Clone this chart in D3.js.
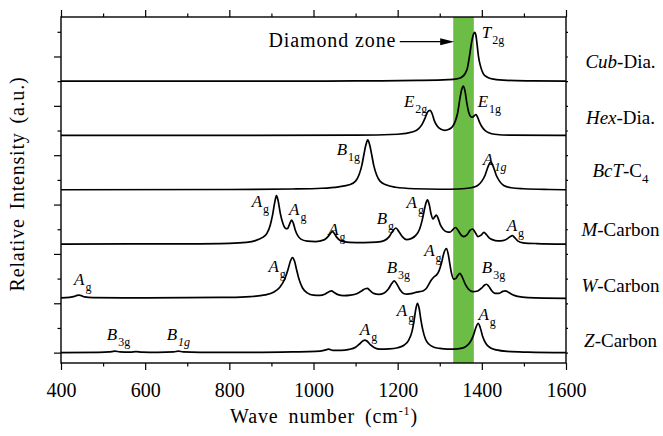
<!DOCTYPE html>
<html>
<head>
<meta charset="utf-8">
<script src="https://cdn.jsdelivr.net/npm/d3@7"></script>
<style>
    body { margin: 0; background: #fff; }
    svg { display: block; }
    text { font-family: "Liberation Serif", "Times New Roman", serif; fill: #000; }
</style>
</head>
<body>
<div id="chart"></div>
<script>
// spectra: [wave number (cm-1), intensity above the trace's own baseline]
let cubDia = [[400,0],[900,0],[1100,0.01],[1250,0.03],[1320,0.06],[1340,0.09],[1352,0.16],[1360,0.3],[1366,0.55],[1371,1.05],[1376,1.6],[1380,1.9],[1383,1.98],[1386,1.85],[1389,1.45],[1392,1.0],[1397,0.6],[1403,0.32],[1412,0.17],[1428,0.08],[1460,0.03],[1520,0.01],[1600,0]];

let hexDia = [[400,0],[1100,0.01],[1200,0.05],[1237,0.15],[1250,0.28],[1258,0.45],[1265,0.7],[1271,0.95],[1277,1.02],[1282,0.88],[1287,0.6],[1294,0.38],[1303,0.25],[1312,0.21],[1322,0.25],[1330,0.35],[1337,0.58],[1343,0.95],[1348,1.5],[1352,1.85],[1356,2.0],[1360,1.8],[1364,1.35],[1369,0.93],[1374,0.76],[1378,0.74],[1382,0.8],[1386,0.85],[1390,0.73],[1395,0.52],[1401,0.33],[1408,0.2],[1418,0.1],[1430,0.05],[1470,0.01],[1600,0]];

let bctC4 = [[400,0],[800,0.01],[950,0.03],[1020,0.06],[1060,0.12],[1085,0.2],[1100,0.35],[1108,0.6],[1115,1.0],[1120,1.45],[1125,1.85],[1129,2.02],[1133,1.85],[1138,1.45],[1143,1.0],[1150,0.6],[1158,0.35],[1172,0.2],[1195,0.1],[1240,0.04],[1300,0.02],[1345,0.03],[1375,0.08],[1390,0.17],[1400,0.35],[1408,0.6],[1414,0.9],[1418,1.06],[1421,1.12],[1424,1.06],[1428,0.9],[1434,0.6],[1442,0.35],[1452,0.17],[1470,0.08],[1500,0.04],[1560,0.01],[1600,0]];

let mCarbon = [[400,0],[700,0.01],[800,0.03],[840,0.07],[862,0.14],[878,0.26],[889,0.42],[897,0.75],[903,1.2],[908,1.7],[912,1.96],[916,1.75],[921,1.25],[927,0.85],[933,0.64],[938,0.62],[943,0.8],[948,0.97],[952,0.85],[957,0.55],[963,0.33],[970,0.2],[985,0.12],[1005,0.1],[1025,0.17],[1036,0.33],[1041,0.45],[1045,0.5],[1049,0.44],[1055,0.28],[1065,0.13],[1085,0.07],[1120,0.06],[1150,0.08],[1168,0.14],[1180,0.3],[1188,0.52],[1196,0.65],[1203,0.5],[1211,0.3],[1221,0.18],[1232,0.22],[1243,0.35],[1252,0.6],[1258,0.95],[1263,1.35],[1267,1.65],[1271,1.79],[1275,1.6],[1279,1.25],[1284,1.02],[1288,1.1],[1292,1.17],[1296,1.05],[1301,0.8],[1308,0.6],[1316,0.5],[1324,0.48],[1331,0.58],[1337,0.67],[1343,0.57],[1350,0.38],[1357,0.3],[1365,0.38],[1372,0.55],[1378,0.61],[1384,0.48],[1391,0.3],[1398,0.36],[1405,0.47],[1411,0.38],[1418,0.24],[1425,0.18],[1438,0.13],[1450,0.14],[1462,0.23],[1468,0.31],[1473,0.34],[1478,0.26],[1486,0.12],[1498,0.05],[1530,0.02],[1600,0]];

let wCarbon = [[400,0.02],[420,0.04],[432,0.08],[438,0.12],[443,0.13],[448,0.11],[456,0.06],[475,0.03],[550,0.02],[700,0.03],[800,0.04],[850,0.07],[885,0.14],[905,0.25],[920,0.45],[932,0.8],[940,1.2],[945,1.5],[950,1.65],[955,1.5],[960,1.15],[966,0.75],[974,0.42],[985,0.22],[1000,0.13],[1015,0.12],[1028,0.18],[1037,0.27],[1043,0.3],[1049,0.24],[1058,0.15],[1072,0.11],[1088,0.13],[1104,0.2],[1116,0.32],[1123,0.39],[1128,0.4],[1134,0.32],[1143,0.2],[1155,0.16],[1168,0.22],[1178,0.38],[1186,0.6],[1192,0.71],[1198,0.58],[1206,0.34],[1214,0.2],[1222,0.17],[1235,0.2],[1245,0.25],[1252,0.27],[1260,0.3],[1268,0.4],[1280,0.74],[1287,0.88],[1292,0.94],[1298,1.1],[1304,1.42],[1310,1.85],[1316,2.02],[1320,1.8],[1323,1.5],[1328,1.01],[1333,0.78],[1338,0.8],[1343,0.93],[1348,1.01],[1353,0.88],[1360,0.6],[1368,0.38],[1379,0.27],[1390,0.3],[1400,0.42],[1406,0.53],[1411,0.57],[1416,0.5],[1423,0.32],[1432,0.2],[1440,0.2],[1450,0.28],[1456,0.3],[1462,0.26],[1472,0.16],[1485,0.08],[1510,0.03],[1600,0]];

let zCarbon = [[400,0],[490,0.01],[515,0.03],[528,0.06],[540,0.03],[565,0.02],[578,0.04],[592,0.02],[630,0.01],[668,0.03],[679,0.06],[690,0.03],[730,0.01],[850,0.01],[950,0.03],[1005,0.05],[1025,0.09],[1036,0.14],[1046,0.09],[1065,0.09],[1085,0.13],[1100,0.22],[1110,0.36],[1117,0.47],[1122,0.51],[1127,0.47],[1135,0.32],[1145,0.2],[1158,0.14],[1180,0.15],[1200,0.2],[1215,0.3],[1226,0.5],[1234,0.85],[1239,1.3],[1243,1.75],[1247,2.0],[1251,1.8],[1255,1.35],[1260,0.9],[1266,0.55],[1274,0.35],[1286,0.22],[1300,0.17],[1318,0.14],[1335,0.14],[1350,0.17],[1362,0.25],[1372,0.42],[1380,0.7],[1386,1.02],[1391,1.19],[1396,1.03],[1402,0.65],[1410,0.36],[1420,0.2],[1435,0.11],[1460,0.05],[1510,0.02],[1600,0]];

let spectra = [cubDia, hexDia, bctC4, mCarbon, wCarbon, zCarbon];
let offsets = [11, 8.8, 6.6, 4.4, 2.2, 0];

// series names: [text, italic?] pieces, last piece may be a subscript
let seriesNames = [
    [["Cub", 1], ["-Dia.", 0]],
    [["Hex", 1], ["-Dia.", 0]],
    [["BcT", 1], ["-C", 0], ["4", 0, "sub"]],
    [["M", 1], ["-Carbon", 0]],
    [["W", 1], ["-Carbon", 0]],
    [["Z", 1], ["-Carbon", 0]]
];
let seriesNameLevel = [11.55, 9.25, 7.13, 4.73, 2.47, 0.24];

// peak labels: [letter, subscript, subscript italic?, wave number, level]
let peakLabels = [
    ["T", "2g", 0, 1400, 12.75],
    ["E", "2g", 0, 1215, 9.97],
    ["E", "1g", 0, 1390, 9.97],
    ["B", "1g", 0, 1055, 8.01],
    ["A", "1g", 1, 1403, 7.60],
    ["A", "g", 0, 853, 5.91],
    ["A", "g", 0, 942, 5.58],
    ["A", "g", 0, 1035, 4.77],
    ["B", "g", 0, 1150, 5.21],
    ["A", "g", 0, 1221, 5.85],
    ["A", "g", 0, 1459, 4.93],
    ["A", "g", 0, 431, 2.74],
    ["A", "g", 0, 893, 3.28],
    ["B", "3g", 0, 1174, 3.21],
    ["A", "g", 0, 1263, 3.92],
    ["B", "3g", 0, 1400, 3.21],
    ["B", "3g", 0, 509, 0.51],
    ["B", "1g", 1, 651, 0.51],
    ["A", "g", 0, 1110, 0.71],
    ["A", "g", 0, 1198, 1.48],
    ["A", "g", 0, 1392, 1.32]
];

let diamondZone = [1332, 1381];
let xMajor = [400, 600, 800, 1000, 1200, 1400, 1600],
    xMinor = [500, 700, 900, 1100, 1300, 1500],
    yMajor = [0, 2, 4, 6, 8, 10, 12],
    yMinor = [1, 3, 5, 7, 9, 11, 13];

// draw
{
    let width = 663,
        height = 436,
        margin = { top: 17, right: 97, bottom: 73, left: 61 };

    let x = d3.scaleLinear()
        .domain([400, 1600])
        .range([margin.left, width - margin.right]);
    let y = d3.scaleLinear()
        .domain([-0.42, 13.6])
        .range([height - margin.bottom, margin.top]);

    let svg = d3.select("#chart").append("svg")
        .attr("width", width)
        .attr("height", height);

    // diamond zone band
    svg.append("rect")
        .attr("x", x(diamondZone[0]))
        .attr("y", margin.top)
        .attr("width", x(diamondZone[1]) - x(diamondZone[0]))
        .attr("height", height - margin.top - margin.bottom)
        .attr("fill", "#6cbd45");

    // spectra
    let line = d3.line()
        .curve(d3.curveMonotoneX);
    spectra.forEach(function(s, i) {
        svg.append("path")
            .attr("d", line.x(d => x(d[0])).y(d => y(d[1] + offsets[i]))(s))
            .attr("fill", "none")
            .attr("stroke", "#000")
            .attr("stroke-width", 1.7)
            .attr("stroke-linejoin", "round");
    });

    // axes
    function tickAxis(axis, values, size, transform) {
        let g = svg.append("g")
            .attr("transform", transform)
            .call(axis.tickValues(values).tickSize(size).tickFormat(""));
        g.select(".domain").remove();
        g.selectAll("line").attr("stroke", "#000").attr("stroke-width", 1.2);
        return g;
    }
    let bottomY = height - margin.bottom,
        rightX = width - margin.right;
    let gx = tickAxis(d3.axisBottom(x), xMajor, 7, "translate(0," + bottomY + ")");
    gx.selectAll("text").remove();
    gx.selectAll(".tick")
        .append("text")
        .attr("y", 20)
        .attr("dy", "0.71em")
        .attr("text-anchor", "middle")
        .attr("font-size", 20)
        .text(d => d);
    tickAxis(d3.axisBottom(x), xMinor, 3.5, "translate(0," + bottomY + ")");
    tickAxis(d3.axisTop(x), xMajor, 7, "translate(0," + margin.top + ")");
    tickAxis(d3.axisTop(x), xMinor, 3.5, "translate(0," + margin.top + ")");
    tickAxis(d3.axisLeft(y), yMajor, 7, "translate(" + margin.left + ",0)");
    tickAxis(d3.axisLeft(y), yMinor, 3.5, "translate(" + margin.left + ",0)");
    tickAxis(d3.axisRight(y), yMajor.concat(yMinor), 2, "translate(" + rightX + ",0)");

    // frame
    svg.append("rect")
        .attr("x", margin.left)
        .attr("y", margin.top)
        .attr("width", rightX - margin.left)
        .attr("height", bottomY - margin.top)
        .attr("fill", "none")
        .attr("stroke", "#000")
        .attr("stroke-width", 1.4);

    // axis titles
    let xt = svg.append("text")
        .attr("x", 324)
        .attr("y", 423)
        .attr("text-anchor", "middle")
        .attr("font-size", 20)
        .attr("letter-spacing", "0.9px")
        .attr("word-spacing", "4px");
    xt.append("tspan").text("Wave number (cm");
    xt.append("tspan").attr("font-size", 12).attr("dy", -8).text("-1");
    xt.append("tspan").attr("dy", 8).text(")");

    svg.append("text")
        .attr("transform", "translate(24," + 184 + ") rotate(-90)")
        .attr("text-anchor", "middle")
        .attr("font-size", 20)
        .attr("letter-spacing", "0.8px")
        .attr("word-spacing", "3px")
        .text("Relative Intensity (a.u.)");

    // series names
    seriesNames.forEach(function(parts, i) {
        let t = svg.append("text")
            .attr("x", 620.5)
            .attr("y", y(seriesNameLevel[i]))
            .attr("text-anchor", "middle")
            .attr("font-size", 19);
        parts.forEach(function(p) {
            let ts = t.append("tspan").text(p[0]);
            if (p[1]) ts.attr("font-style", "italic");
            if (p[2] == "sub") ts.attr("font-size", 13).attr("dy", 6);
        });
    });

    // peak labels
    peakLabels.forEach(function(p) {
        let t = svg.append("text")
            .attr("x", x(p[3]))
            .attr("y", y(p[4]))
            .attr("font-size", 17);
        t.append("tspan").attr("font-style", "italic").text(p[0]);
        t.append("tspan")
            .attr("font-size", 12)
            .attr("dx", 1)
            .attr("dy", 6)
            .attr("font-style", p[2] ? "italic" : "normal")
            .text(p[1]);
    });

    // diamond zone annotation
    let ay = y(12.6);
    svg.append("text")
        .attr("x", x(1197))
        .attr("y", y(12.4))
        .attr("text-anchor", "end")
        .attr("font-size", 20)
        .attr("letter-spacing", "0.9px")
        .text("Diamond zone");
    svg.append("line")
        .attr("x1", x(1205))
        .attr("x2", x(1305))
        .attr("y1", ay)
        .attr("y2", ay)
        .attr("stroke", "#000")
        .attr("stroke-width", 1.2);
    let tipX = x(diamondZone[0]) + 1;
    svg.append("path")
        .attr("d", "M" + tipX + "," + ay + "L" + (tipX - 14) + "," + (ay - 3.5) + "L" + (tipX - 14) + "," + (ay + 3.5) + "Z")
        .attr("fill", "#000");
}
</script>
</body>
</html>
